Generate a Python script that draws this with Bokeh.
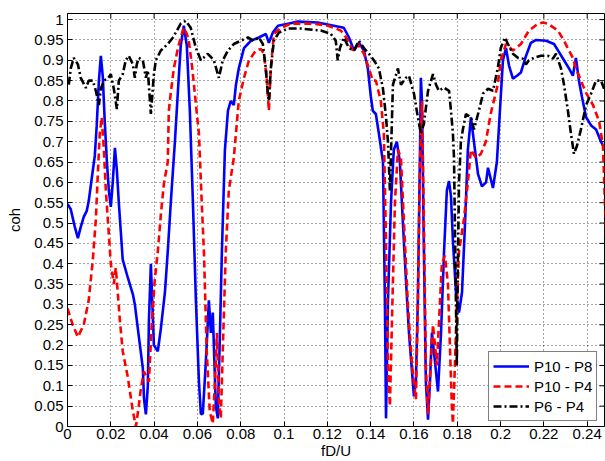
import math
from bokeh.plotting import figure
from bokeh.models import (Range1d, FixedTicker, Legend, LegendItem,
                          CustomJSTickFormatter)
from bokeh.embed import file_html
from bokeh.resources import INLINE

# ---------------- data ----------------
x_ticks = [0, 0.02, 0.04, 0.06, 0.08, 0.1, 0.12, 0.14, 0.16, 0.18, 0.2, 0.22, 0.24]
y_ticks = [0, 0.05, 0.1, 0.15, 0.2, 0.25, 0.3, 0.35, 0.4, 0.45, 0.5, 0.55, 0.6,
           0.65, 0.7, 0.75, 0.8, 0.85, 0.9, 0.95, 1]

series_names = ["P10 - P8", "P10 - P4", "P6 - P4"]

f_p10_p8 = [0.0000, 0.0015, 0.0034, 0.0048, 0.0061, 0.0075, 0.0089, 0.0098, 0.0112, 0.0126,
            0.0135, 0.0145, 0.0154, 0.0163, 0.0172, 0.0182, 0.0191, 0.0200, 0.0209, 0.0219,
            0.0228, 0.0237, 0.0255, 0.0279, 0.0302, 0.0311, 0.0325, 0.0348, 0.0353, 0.0362,
            0.0371, 0.0376, 0.0385, 0.0399, 0.0417, 0.0431, 0.0450, 0.0463, 0.0477, 0.0496,
            0.0510, 0.0523, 0.0537, 0.0551, 0.0565, 0.0579, 0.0593, 0.0607, 0.0616, 0.0625,
            0.0639, 0.0653, 0.0662, 0.0671, 0.0685, 0.0694, 0.0704, 0.0713, 0.0727, 0.0741,
            0.0754, 0.0768, 0.0778, 0.0791, 0.0815, 0.0847, 0.0884, 0.0916, 0.0930, 0.0948,
            0.0972, 0.1018, 0.1064, 0.1156, 0.1230, 0.1276, 0.1300, 0.1323, 0.1346, 0.1369,
            0.1387, 0.1401, 0.1410, 0.1424, 0.1438, 0.1457, 0.1466, 0.1471, 0.1480, 0.1494,
            0.1507, 0.1521, 0.1535, 0.1549, 0.1563, 0.1577, 0.1591, 0.1600, 0.1609, 0.1618,
            0.1628, 0.1632, 0.1637, 0.1646, 0.1655, 0.1665, 0.1674, 0.1683, 0.1697, 0.1711,
            0.1725, 0.1739, 0.1752, 0.1762, 0.1771, 0.1780, 0.1794, 0.1808, 0.1822, 0.1836,
            0.1849, 0.1863, 0.1877, 0.1896, 0.1914, 0.1933, 0.1942, 0.1965, 0.1983, 0.1997,
            0.2011, 0.2025, 0.2039, 0.2057, 0.2076, 0.2094, 0.2117, 0.2140, 0.2164, 0.2210,
            0.2247, 0.2270, 0.2293, 0.2316, 0.2334, 0.2348, 0.2362, 0.2376, 0.2395, 0.2418,
            0.2441, 0.2464, 0.2482]
coh_p10_p8 = [0.547, 0.534, 0.490, 0.463, 0.490, 0.515, 0.530, 0.554, 0.610, 0.665,
              0.740, 0.850, 0.911, 0.860, 0.750, 0.650, 0.580, 0.540, 0.600, 0.685,
              0.630, 0.550, 0.410, 0.365, 0.325, 0.300, 0.240, 0.143, 0.070, 0.030,
              0.100, 0.260, 0.400, 0.200, 0.185, 0.240, 0.330, 0.430, 0.550, 0.700,
              0.825, 0.936, 0.985, 0.936, 0.776, 0.554, 0.310, 0.110, 0.030, 0.032,
              0.160, 0.310, 0.230, 0.280, 0.050, 0.020, 0.230, 0.430, 0.680, 0.776,
              0.800, 0.790, 0.840, 0.880, 0.930, 0.948, 0.956, 0.965, 0.943, 0.968,
              0.985, 0.990, 0.995, 0.993, 0.985, 0.980, 0.956, 0.924, 0.943, 0.924,
              0.880, 0.810, 0.776, 0.768, 0.720, 0.650, 0.300, 0.020, 0.310, 0.550,
              0.680, 0.700, 0.650, 0.500, 0.360, 0.230, 0.135, 0.074, 0.110, 0.310,
              0.680, 0.857, 0.800, 0.430, 0.110, 0.017, 0.110, 0.230, 0.160, 0.086,
              0.230, 0.430, 0.580, 0.603, 0.566, 0.456, 0.330, 0.280, 0.330, 0.500,
              0.680, 0.760, 0.700, 0.620, 0.590, 0.600, 0.636, 0.586, 0.650, 0.776,
              0.900, 0.930, 0.887, 0.855, 0.862, 0.870, 0.910, 0.943, 0.950, 0.948,
              0.940, 0.920, 0.900, 0.880, 0.862, 0.906, 0.850, 0.810, 0.760, 0.740,
              0.730, 0.700, 0.680]

f_p10_p4 = [0.0000, 0.0024, 0.0048, 0.0075, 0.0098, 0.0117, 0.0131, 0.0140, 0.0149, 0.0158,
            0.0168, 0.0177, 0.0186, 0.0200, 0.0214, 0.0223, 0.0232, 0.0242, 0.0255, 0.0279,
            0.0302, 0.0316, 0.0329, 0.0339, 0.0353, 0.0366, 0.0376, 0.0389, 0.0403, 0.0417,
            0.0431, 0.0445, 0.0463, 0.0468, 0.0477, 0.0491, 0.0510, 0.0523, 0.0537, 0.0551,
            0.0560, 0.0574, 0.0584, 0.0597, 0.0607, 0.0620, 0.0630, 0.0643, 0.0657, 0.0671,
            0.0681, 0.0690, 0.0699, 0.0708, 0.0717, 0.0731, 0.0745, 0.0768, 0.0791, 0.0815,
            0.0838, 0.0870, 0.0893, 0.0907, 0.0921, 0.0930, 0.0939, 0.0953, 0.0986, 0.1032,
            0.1138, 0.1203, 0.1230, 0.1262, 0.1276, 0.1295, 0.1318, 0.1341, 0.1369, 0.1392,
            0.1410, 0.1424, 0.1447, 0.1461, 0.1471, 0.1480, 0.1489, 0.1498, 0.1512, 0.1526,
            0.1540, 0.1554, 0.1572, 0.1591, 0.1609, 0.1618, 0.1628, 0.1637, 0.1646, 0.1655,
            0.1665, 0.1674, 0.1688, 0.1706, 0.1715, 0.1729, 0.1743, 0.1757, 0.1766, 0.1775,
            0.1780, 0.1789, 0.1798, 0.1808, 0.1831, 0.1849, 0.1863, 0.1886, 0.1909, 0.1932,
            0.1955, 0.1987, 0.2001, 0.2025, 0.2057, 0.2094, 0.2131, 0.2173, 0.2196, 0.2219,
            0.2265, 0.2293, 0.2316, 0.2334, 0.2348, 0.2371, 0.2395, 0.2427, 0.2455, 0.2473,
            0.2482, 0.2487]
coh_p10_p4 = [0.290, 0.250, 0.220, 0.250, 0.310, 0.410, 0.510, 0.620, 0.720, 0.760,
              0.680, 0.580, 0.510, 0.400, 0.350, 0.390, 0.330, 0.260, 0.185, 0.120,
              0.037, 0.000, 0.050, 0.094, 0.135, 0.120, 0.110, 0.250, 0.360, 0.430,
              0.520, 0.596, 0.650, 0.776, 0.820, 0.880, 0.930, 0.956, 0.980, 0.965,
              0.948, 0.890, 0.840, 0.770, 0.720, 0.550, 0.430, 0.185, 0.037, 0.007,
              0.110, 0.230, 0.060, 0.020, 0.185, 0.430, 0.580, 0.660, 0.800, 0.857,
              0.900, 0.924, 0.928, 0.916, 0.850, 0.776, 0.880, 0.965, 0.980, 0.990,
              0.990, 0.985, 0.980, 0.973, 0.965, 0.948, 0.924, 0.940, 0.916, 0.880,
              0.850, 0.850, 0.800, 0.720, 0.450, 0.150, 0.050, 0.250, 0.550, 0.680,
              0.660, 0.500, 0.300, 0.150, 0.066, 0.300, 0.650, 0.800, 0.500, 0.150,
              0.030, 0.120, 0.250, 0.150, 0.250, 0.400, 0.420, 0.350, 0.200, 0.050,
              0.007, 0.150, 0.300, 0.430, 0.510, 0.600, 0.680, 0.660, 0.670, 0.700,
              0.770, 0.840, 0.900, 0.940, 0.924, 0.940, 0.973, 0.990, 0.993, 0.990,
              0.973, 0.948, 0.924, 0.906, 0.880, 0.850, 0.820, 0.790, 0.750, 0.690,
              0.550, 0.470]

f_p6_p4 = [0.0006, 0.0015, 0.0029, 0.0048, 0.0061, 0.0085, 0.0098, 0.0117, 0.0131, 0.0145,
           0.0154, 0.0168, 0.0186, 0.0200, 0.0214, 0.0228, 0.0237, 0.0255, 0.0269, 0.0283,
           0.0302, 0.0311, 0.0320, 0.0329, 0.0348, 0.0362, 0.0371, 0.0385, 0.0399, 0.0408,
           0.0431, 0.0463, 0.0487, 0.0500, 0.0523, 0.0546, 0.0569, 0.0593, 0.0616, 0.0648,
           0.0676, 0.0699, 0.0717, 0.0741, 0.0768, 0.0800, 0.0833, 0.0860, 0.0884, 0.0902,
           0.0916, 0.0925, 0.0930, 0.0939, 0.0953, 0.0976, 0.1018, 0.1078, 0.1170, 0.1216,
           0.1239, 0.1248, 0.1258, 0.1276, 0.1300, 0.1323, 0.1346, 0.1369, 0.1392, 0.1415,
           0.1438, 0.1457, 0.1471, 0.1480, 0.1489, 0.1503, 0.1526, 0.1540, 0.1563, 0.1577,
           0.1600, 0.1618, 0.1632, 0.1646, 0.1665, 0.1688, 0.1702, 0.1715, 0.1738, 0.1762,
           0.1771, 0.1780, 0.1785, 0.1794, 0.1798, 0.1803, 0.1808, 0.1817, 0.1826, 0.1840,
           0.1863, 0.1877, 0.1900, 0.1919, 0.1942, 0.1965, 0.1987, 0.2001, 0.2020, 0.2034,
           0.2057, 0.2080, 0.2103, 0.2117, 0.2131, 0.2154, 0.2187, 0.2219, 0.2242, 0.2256,
           0.2279, 0.2293, 0.2311, 0.2325, 0.2339, 0.2353, 0.2371, 0.2395, 0.2418, 0.2441,
           0.2464, 0.2478]
coh_p6_p4 = [0.840, 0.880, 0.906, 0.890, 0.857, 0.832, 0.850, 0.850, 0.825, 0.790,
             0.830, 0.850, 0.855, 0.866, 0.830, 0.780, 0.850, 0.866, 0.900, 0.911,
             0.890, 0.857, 0.890, 0.906, 0.900, 0.857, 0.875, 0.768, 0.866, 0.900,
             0.924, 0.940, 0.956, 0.968, 0.990, 0.997, 0.980, 0.930, 0.900, 0.916,
             0.900, 0.857, 0.900, 0.924, 0.940, 0.948, 0.956, 0.948, 0.956, 0.940,
             0.880, 0.818, 0.800, 0.880, 0.948, 0.968, 0.978, 0.978, 0.973, 0.965,
             0.948, 0.900, 0.930, 0.956, 0.930, 0.924, 0.948, 0.930, 0.916, 0.900,
             0.880, 0.830, 0.760, 0.700, 0.580, 0.840, 0.880, 0.840, 0.857, 0.862,
             0.818, 0.760, 0.720, 0.744, 0.825, 0.866, 0.840, 0.825, 0.833, 0.825,
             0.776, 0.720, 0.660, 0.300, 0.150, 0.400, 0.600, 0.700, 0.730, 0.768,
             0.760, 0.730, 0.776, 0.818, 0.830, 0.825, 0.880, 0.930, 0.956, 0.940,
             0.916, 0.906, 0.904, 0.890, 0.900, 0.906, 0.911, 0.911, 0.904, 0.916,
             0.880, 0.840, 0.776, 0.720, 0.670, 0.690, 0.730, 0.790, 0.818, 0.850,
             0.850, 0.830]

x_label = "fD/U"
y_label = "coh"

# ---------------- figure ----------------
FONT = "Liberation Sans"
X_END = 0.248
Y_END = 1.015

p = figure(width=605, height=461,
           x_range=Range1d(0, X_END), y_range=Range1d(0, Y_END),
           output_backend="svg", toolbar_location=None,
           min_border_left=67, min_border_top=13, min_border_right=1,
           min_border_bottom=0, background_fill_color="white",
           border_fill_color="white")
p.outline_line_color = "black"
p.outline_line_width = 1
p.outline_line_alpha = 1

fmt = CustomJSTickFormatter(code="return String(parseFloat(tick.toFixed(4)));")

for ax, ticks in ((p.xaxis[0], x_ticks), (p.yaxis[0], y_ticks)):
    ax.ticker = FixedTicker(ticks=ticks)
    ax.formatter = fmt
    ax.major_tick_in = 5
    ax.major_tick_out = 0
    ax.minor_tick_line_color = None
    ax.major_tick_line_color = "black"
    ax.axis_line_color = "black"
    ax.major_label_text_font = FONT
    ax.major_label_text_font_size = "15px"
    ax.major_label_text_color = "black"
    ax.axis_label_text_font = FONT
    ax.axis_label_text_font_size = "15px"
    ax.axis_label_text_font_style = "normal"
    ax.axis_label_text_color = "black"

p.xaxis[0].axis_label = x_label
p.yaxis[0].axis_label = y_label
p.xaxis[0].major_label_standoff = 2
p.xaxis[0].axis_label_standoff = 0
p.yaxis[0].major_label_standoff = 4
p.yaxis[0].axis_label_standoff = 8

# mirrored inward ticks on the top and right edges (MATLAB box style)
p.ray(x=x_ticks, y=[Y_END] * len(x_ticks), length=5, length_units="screen",
      angle=-math.pi / 2, line_color="black", line_width=1)
p.ray(x=[X_END] * len(y_ticks), y=y_ticks, length=5, length_units="screen",
      angle=math.pi, line_color="black", line_width=1)

for g, ticks in ((p.xgrid[0], x_ticks), (p.ygrid[0], y_ticks)):
    g.ticker = FixedTicker(ticks=ticks)
    g.grid_line_color = "black"
    g.grid_line_alpha = 0.7
    g.grid_line_dash = "1 3"
    g.grid_line_width = 1

r1 = p.line(f_p10_p8, coh_p10_p8, line_color="#0000ff", line_width=2.6)
r2 = p.line(f_p10_p4, coh_p10_p4, line_color="#ff0000", line_width=2.6, line_dash="7 4")
r3 = p.line(f_p6_p4, coh_p6_p4, line_color="black", line_width=2.6, line_dash="8 3 2 3")

legend = Legend(items=[LegendItem(label=series_names[0], renderers=[r1]),
                       LegendItem(label=series_names[1], renderers=[r2]),
                       LegendItem(label=series_names[2], renderers=[r3])],
                location=(421, 5))
legend.label_text_font = FONT
legend.label_text_font_size = "15px"
legend.label_text_color = "black"
legend.glyph_width = 36
legend.glyph_height = 20
legend.label_height = 20
legend.label_standoff = 5
legend.spacing = 0
legend.padding = 4
legend.margin = 0
legend.border_line_color = "black"
legend.border_line_width = 1
legend.background_fill_color = "white"
legend.background_fill_alpha = 1
p.add_layout(legend, "center")

open("out.html", "w").write(file_html(p, INLINE))
